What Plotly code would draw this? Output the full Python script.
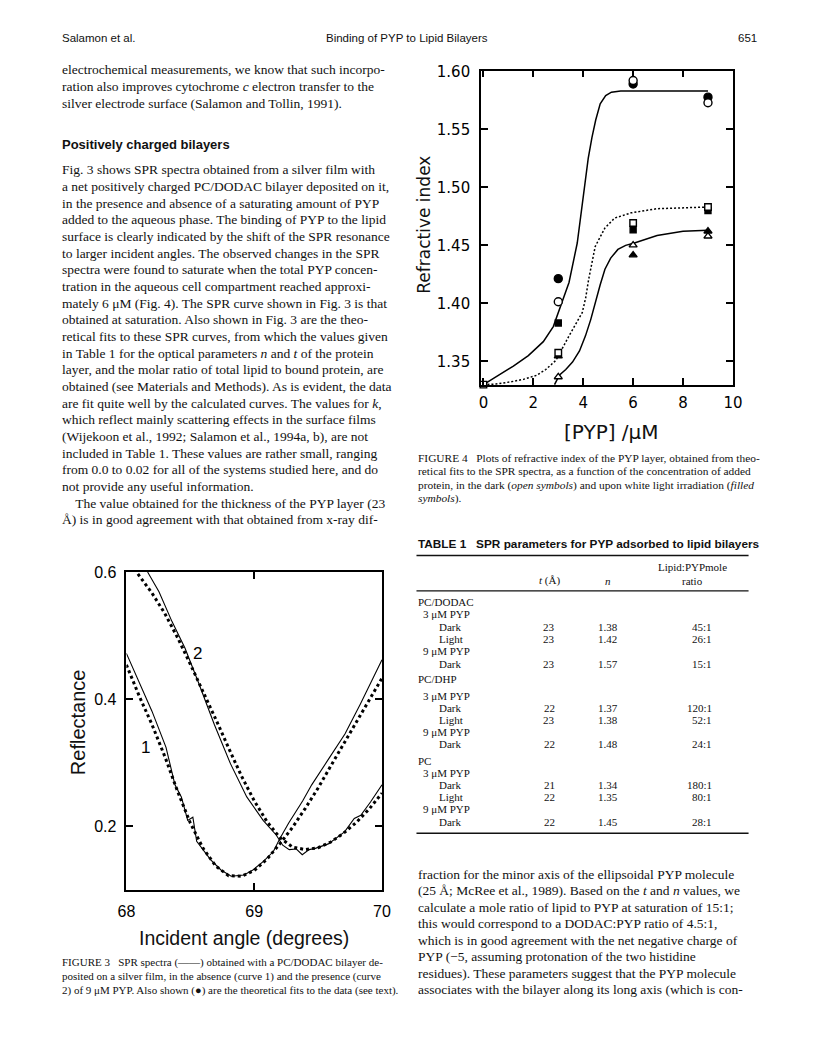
import plotly.graph_objects as go

W, H = 816, 1056
OFF = 8  # browser body margin around the plot div
SERIF = "Liberation Serif"
SANS = "Liberation Sans"
WIDE = "DejaVu Sans"

# ---- Figure 4: refractive index vs [PYP] ----
fit_dodac_x = [0, 0.6, 1.2, 1.8, 2.4, 2.8, 3.1, 3.43, 3.76, 4.02, 4.2, 4.35, 4.5, 4.68, 4.9, 5.13, 5.5, 6, 7, 8, 9]
fit_dodac_y = [1.330, 1.338, 1.346, 1.355, 1.367, 1.380, 1.398, 1.418, 1.452, 1.498, 1.525, 1.543,
               1.558, 1.572, 1.579, 1.582, 1.583, 1.583, 1.583, 1.583, 1.583]
fit_dhp_x = [0, 0.5, 1.08, 1.6, 2.13, 2.5, 2.91, 3.43, 3.96, 4.1, 4.22, 4.48, 4.87, 5.26, 5.92, 6.96, 9]
fit_dhp_y = [1.330, 1.3305, 1.3323, 1.3345, 1.338, 1.343, 1.351, 1.372, 1.392, 1.405, 1.421, 1.449,
             1.465, 1.4735, 1.478, 1.4816, 1.483]
fit_pc_x = [2.85, 3.04, 3.3, 3.57, 3.85, 4.09, 4.3, 4.48, 4.68, 4.87, 5.1, 5.39, 5.7, 6.05, 6.5, 6.96, 8.0, 9.0]
fit_pc_y = [1.330, 1.338, 1.343, 1.3494, 1.359, 1.372, 1.386, 1.4008, 1.416, 1.4294, 1.439, 1.4465,
            1.450, 1.4521, 1.455, 1.4585, 1.4622, 1.463]

pyp_conc = [3, 6, 9]
dodac_dark = [1.4014, 1.592, 1.5729]
dodac_light = [1.4213, 1.5891, 1.5777]
dhp_dark_x = [0, 3, 6, 9]
dhp_dark = [1.330, 1.3574, 1.4693, 1.483]
dhp_light = [1.3831, 1.4633, 1.4799]
pc_dark = [1.3366, 1.4502, 1.4579]
pc_light = [1.3546, 1.4416, 1.4622]

# ---- Figure 3: reflectance vs incident angle ----
c1_x = [68.0, 68.05, 68.13, 68.2, 68.26, 68.31, 68.38, 68.43, 68.48, 68.52, 68.55, 68.61, 68.66, 68.74,
        68.82, 68.92, 68.99, 69.07, 69.15, 69.2, 69.27, 69.38, 69.45, 69.58, 69.71, 69.83, 69.94, 70.0]
c1_y = [0.472, 0.449, 0.413, 0.381, 0.350, 0.324, 0.265, 0.246, 0.209, 0.214, 0.176, 0.160, 0.147, 0.131,
        0.121, 0.123, 0.131, 0.144, 0.160, 0.180, 0.205, 0.240, 0.265, 0.305, 0.345, 0.392, 0.438, 0.462]
c1_fit_x = [68.0, 68.1, 68.2, 68.3, 68.4, 68.5, 68.6, 68.7, 68.8, 68.9, 69.0, 69.1, 69.2, 69.3, 69.4,
            69.5, 69.6, 69.7, 69.8, 69.9, 70.0]
c1_fit_y = [0.454, 0.405, 0.360, 0.310, 0.255, 0.205, 0.165, 0.137, 0.122, 0.121, 0.130, 0.148, 0.172,
            0.198, 0.228, 0.260, 0.295, 0.330, 0.365, 0.400, 0.433]
c2_x = [68.166, 68.255, 68.357, 68.459, 68.56, 68.688, 68.815, 68.942, 69.07, 69.172, 69.223, 69.274,
        69.33, 69.376, 69.43, 69.478, 69.58, 69.707, 69.783, 69.834, 69.91, 70.0]
c2_y = [0.600, 0.569, 0.522, 0.480, 0.428, 0.360, 0.298, 0.246, 0.209, 0.186, 0.170, 0.163, 0.164,
        0.155, 0.163, 0.165, 0.172, 0.191, 0.212, 0.217, 0.238, 0.265]
c2_fit_x = [68.09, 68.2, 68.3, 68.4, 68.5, 68.6, 68.7, 68.8, 68.9, 69.0, 69.1, 69.2, 69.3, 69.4, 69.5,
            69.6, 69.7, 69.8, 69.9, 70.0]
c2_fit_y = [0.597, 0.567, 0.535, 0.497, 0.455, 0.412, 0.368, 0.323, 0.279, 0.240, 0.207, 0.182, 0.167,
            0.163, 0.166, 0.175, 0.189, 0.206, 0.227, 0.252]

# ---- Table 1 ----
tab_labels = ["PC/DODAC", "3 μM PYP", "Dark", "Light", "9 μM PYP", "Dark",
              "PC/DHP", "3 μM PYP", "Dark", "Light", "9 μM PYP", "Dark",
              "PC", "3 μM PYP", "Dark", "Light", "9 μM PYP", "Dark"]
tab_t = ["", "", "23", "23", "", "23", "", "", "22", "23", "", "22", "", "", "21", "22", "", "22"]
tab_n = ["", "", "1.38", "1.42", "", "1.57", "", "", "1.37", "1.38", "", "1.48", "", "", "1.34", "1.35", "", "1.45"]
tab_ratio = ["", "", "45:1", "26:1", "", "15:1", "", "", "120:1", "52:1", "", "24:1", "", "", "180:1", "80:1", "", "28:1"]

left_text_top = [
    "electrochemical measurements, we know that such incorpo-",
    "ration also improves cytochrome <i>c</i> electron transfer to the",
    "silver electrode surface (Salamon and Tollin, 1991).",
]
left_text_body = [
    "Fig. 3 shows SPR spectra obtained from a silver film with",
    "a net positively charged PC/DODAC bilayer deposited on it,",
    "in the presence and absence of a saturating amount of PYP",
    "added to the aqueous phase. The binding of PYP to the lipid",
    "surface is clearly indicated by the shift of the SPR resonance",
    "to larger incident angles. The observed changes in the SPR",
    "spectra were found to saturate when the total PYP concen-",
    "tration in the aqueous cell compartment reached approxi-",
    "mately 6 μM (Fig. 4). The SPR curve shown in Fig. 3 is that",
    "obtained at saturation. Also shown in Fig. 3 are the theo-",
    "retical fits to these SPR curves, from which the values given",
    "in Table 1 for the optical parameters <i>n</i> and <i>t</i> of the protein",
    "layer, and the molar ratio of total lipid to bound protein, are",
    "obtained (see Materials and Methods). As is evident, the data",
    "are fit quite well by the calculated curves. The values for <i>k</i>,",
    "which reflect mainly scattering effects in the surface films",
    "(Wijekoon et al., 1992; Salamon et al., 1994a, b), are not",
    "included in Table 1. These values are rather small, ranging",
    "from 0.0 to 0.02 for all of the systems studied here, and do",
    "not provide any useful information.",
    "    The value obtained for the thickness of the PYP layer (23",
    "Å) is in good agreement with that obtained from x-ray dif-",
]
right_text = [
    "fraction for the minor axis of the ellipsoidal PYP molecule",
    "(25 Å; McRee et al., 1989). Based on the <i>t</i> and <i>n</i> values, we",
    "calculate a mole ratio of lipid to PYP at saturation of 15:1;",
    "this would correspond to a DODAC:PYP ratio of 4.5:1,",
    "which is in good agreement with the net negative charge of",
    "PYP (−5, assuming protonation of the two histidine",
    "residues). These parameters suggest that the PYP molecule",
    "associates with the bilayer along its long axis (which is con-",
]
fig4_caption = [
    "FIGURE 4   Plots of refractive index of the PYP layer, obtained from theo-",
    "retical fits to the SPR spectra, as a function of the concentration of added",
    "protein, in the dark (<i>open symbols</i>) and upon white light irradiation (<i>filled</i>",
    "<i>symbols</i>).",
]
fig3_caption = [
    "FIGURE 3   SPR spectra (——) obtained with a PC/DODAC bilayer de-",
    "posited on a silver film, in the absence (curve 1) and the presence (curve",
    "2) of 9 μM PYP. Also shown (●) are the theoretical fits to the data (see text).",
]


def fx(x):
    return (x - OFF) / W


def fy(y):
    return 1 - (y - OFF) / H


def ann(x, y, text, size=13.5, family=SERIF, anchor="left", angle=0):
    return dict(x=fx(x), y=fy(y), xref="paper", yref="paper", text=text, showarrow=False,
                xanchor=anchor, yanchor="middle", textangle=angle,
                font=dict(size=size, family=family, color="#111111"))


def hline(x0, x1, y, width=1.0):
    return dict(type="line", xref="paper", yref="paper", x0=fx(x0), x1=fx(x1),
                y0=fy(y), y1=fy(y), line=dict(color="#111111", width=width))


fig = go.Figure()

# figure 4 traces
fig.add_trace(go.Scatter(x=fit_dodac_x, y=fit_dodac_y, mode="lines", line=dict(color="black", width=1.5)))
fig.add_trace(go.Scatter(x=fit_dhp_x, y=fit_dhp_y, mode="lines",
                         line=dict(color="black", width=1.5, dash="2px,2px")))
fig.add_trace(go.Scatter(x=fit_pc_x, y=fit_pc_y, mode="lines", line=dict(color="black", width=1.5)))


def pts(x, y, symbol, filled, size):
    fill = "black" if filled else "white"
    return go.Scatter(x=x, y=y, mode="markers", cliponaxis=False,
                      marker=dict(symbol=symbol, size=size, color=fill, line=dict(color="black", width=1.4)))


fig.add_trace(pts(pyp_conc, dodac_light, "circle", True, 8))
fig.add_trace(pts(pyp_conc, dodac_dark, "circle", False, 8))
fig.add_trace(pts(pyp_conc, dhp_light, "square", True, 6))
fig.add_trace(pts(pyp_conc, pc_light, "triangle-up", True, 7))
fig.add_trace(pts(dhp_dark_x, dhp_dark, "square", False, 6.5))
fig.add_trace(pts(pyp_conc, pc_dark, "triangle-up", False, 7))

# figure 3 traces
for xs, ys in [(c1_x, c1_y), (c2_x, c2_y)]:
    fig.add_trace(go.Scatter(x=xs, y=ys, mode="lines", xaxis="x2", yaxis="y2",
                             line=dict(color="black", width=1.1)))
for xs, ys in [(c1_fit_x, c1_fit_y), (c2_fit_x, c2_fit_y)]:
    fig.add_trace(go.Scatter(x=xs, y=ys, mode="lines", xaxis="x2", yaxis="y2",
                             line=dict(color="black", width=3, dash="3px,3px")))

axis_common = dict(showline=True, linecolor="black", linewidth=1.5, mirror="ticks", ticks="inside",
                   ticklen=7, tickwidth=1.5, tickcolor="black", showgrid=False, zeroline=False)

fig.update_layout(
    width=W, height=H, margin=dict(l=0, r=0, t=0, b=0),
    paper_bgcolor="white", plot_bgcolor="white", showlegend=False,
    xaxis=dict(domain=[fx(483), fx(741)], range=[-0.1, 10], tickvals=[0, 2, 4, 6, 8, 10],
               anchor="y", tickfont=dict(family=WIDE, size=15, color="black"), ticklabelstandoff=3,
               **axis_common),
    yaxis=dict(domain=[fy(380), fy(63)], range=[1.3295, 1.6006],
               tickvals=[1.35, 1.40, 1.45, 1.50, 1.55, 1.60], tickformat=".2f", anchor="x",
               tickfont=dict(family=WIDE, size=15, color="black"), ticklabelstandoff=6,
               **axis_common),
    xaxis2=dict(domain=[fx(120), fx(381.7)], range=[68, 70], tickvals=[68, 69, 70], anchor="y2",
                tickfont=dict(family=SANS, size=16, color="black"), ticklabelstandoff=6,
                **axis_common),
    yaxis2=dict(domain=[fy(888.3), fy(568.3)], range=[0.1, 0.6], tickvals=[0.2, 0.4, 0.6],
                tickformat=".1f", anchor="x2", tickfont=dict(family=SANS, size=16, color="black"),
                ticklabelstandoff=5, **axis_common),
)

anns = []
# running head
anns.append(ann(52, 30, "Salamon et al.", 11.5, SANS))
anns.append(ann(322, 30, "Binding of PYP to Lipid Bilayers", 11.5, SANS))
anns.append(ann(768, 30, "651", 11.5, SANS, anchor="right"))

# left column text
for i, line in enumerate(left_text_top):
    anns.append(ann(52, 62 + i * 16.9, line))
anns.append(ann(52, 137, "<b>Positively charged bilayers</b>", 13, SANS))
for i, line in enumerate(left_text_body):
    anns.append(ann(52, 163 + i * 16.8, line))

# right column text
for i, line in enumerate(right_text):
    anns.append(ann(417, 873 + i * 16.6, line))

# figure 4 labels and caption
anns.append(ann(425, 218, "Refractive index", 17, WIDE, anchor="center", angle=-90))
anns.append(ann(617, 427, "[PYP] /μM", 20, WIDE, anchor="center"))
for i, line in enumerate(fig4_caption):
    anns.append(ann(417, 453 + i * 13.8, line, 11.4))

# figure 3 labels and caption
anns.append(ann(70, 720, "Reflectance", 20, SANS, anchor="center", angle=-90))
anns.append(ann(240, 937, "Incident angle (degrees)", 19.5, SANS, anchor="center"))
anns.append(dict(x=68.153, y=0.324, xref="x2", yref="y2", text="1", showarrow=False,
                 font=dict(size=17, family=SANS, color="black")))
anns.append(dict(x=68.56, y=0.472, xref="x2", yref="y2", text="2", showarrow=False,
                 font=dict(size=17, family=SANS, color="black")))
for i, line in enumerate(fig3_caption):
    anns.append(ann(52, 962 + i * 14, line, 11))

# table 1
anns.append(ann(417, 540, "<b>TABLE 1   SPR parameters for PYP adsorbed to lipid bilayers</b>", 11.8, SANS))
anns.append(ann(700, 563, "Lipid:PYPmole", 11, SERIF, anchor="center"))
anns.append(ann(553, 577, "<i>t</i> (Å)", 11, SERIF, anchor="center"))
anns.append(ann(613, 577, "<i>n</i>", 11, SERIF, anchor="center"))
anns.append(ann(700, 577, "ratio", 11, SERIF, anchor="center"))

row_y = [598.3, 611, 623.3, 636, 648.3, 660.5, 676, 692.7, 705, 717.3, 729.3, 741.7,
         758.3, 770.7, 782.7, 795, 807.3, 820]
for i, lab in enumerate(tab_labels):
    if lab.startswith("PC"):
        xl = 417
    elif "μM" in lab:
        xl = 422
    else:
        xl = 438
    anns.append(ann(xl, row_y[i], lab, 11))
    if tab_t[i]:
        anns.append(ann(553, row_y[i], tab_t[i], 11, anchor="center"))
        anns.append(ann(613, row_y[i], tab_n[i], 11, anchor="center"))
        anns.append(ann(722, row_y[i], tab_ratio[i], 11, anchor="right"))

shapes = [hline(417, 757, 551.7, 1.5), hline(417, 757, 587.3, 1.3), hline(417, 757, 831.5, 1.5)]

fig.update_layout(annotations=anns, shapes=shapes)
fig.write_html("out.html")
